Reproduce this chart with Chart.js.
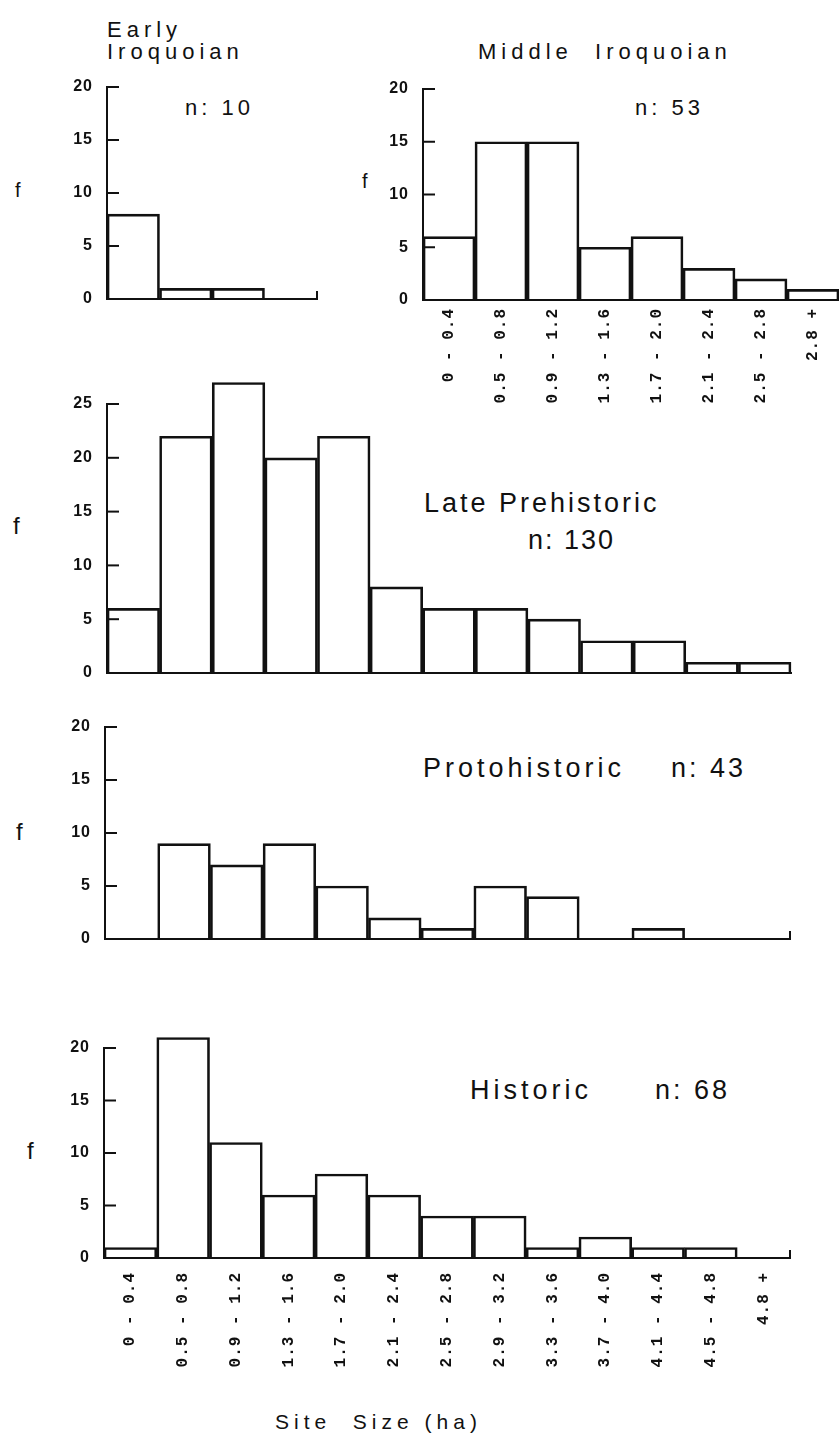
<!DOCTYPE html>
<html>
<head>
<meta charset="utf-8">
<script src="https://cdn.jsdelivr.net/npm/chart.js@4.4.1/dist/chart.umd.min.js"></script>
<style>
    body { margin: 0; background: #fff; width: 839px; height: 1434px; position: relative; overflow: hidden;
           font-family: 'Liberation Sans', Arial, sans-serif; color: #111; }
    canvas { position: absolute; }
    .txt { position: absolute; white-space: pre; line-height: 1; }
    .top { font-size: 22px; letter-spacing: 5px; }
    .low { font-size: 27px; letter-spacing: 4px; }
    .f { position: absolute; line-height: 1; }
</style>
</head>
<body>

<div class="txt top" style="left:107px;top:19px">Early</div>
<div class="txt top" style="left:107px;top:41px">Iroquoian</div>
<div class="txt top" style="left:185px;top:97px;letter-spacing:4px">n: 10</div>
<div class="txt top" style="left:478px;top:41px">Middle  Iroquoian</div>
<div class="txt top" style="left:635px;top:97px;letter-spacing:4px">n: 53</div>
<div class="txt low" style="left:424px;top:490px;letter-spacing:3px">Late Prehistoric</div>
<div class="txt low" style="left:528px;top:527px;letter-spacing:2px">n: 130</div>
<div class="txt low" style="left:423px;top:755px">Protohistoric</div>
<div class="txt low" style="left:671px;top:755px;letter-spacing:3px">n: 43</div>
<div class="txt low" style="left:470px;top:1077px">Historic</div>
<div class="txt low" style="left:655px;top:1077px;letter-spacing:3px">n: 68</div>
<div class="txt" style="left:275px;top:1411px;font-size:21px;letter-spacing:5px">Site  Size (ha)</div>

<div class="f" style="left:15px;top:180px;font-size:20px">f</div>
<div class="f" style="left:362px;top:171px;font-size:20px">f</div>
<div class="f" style="left:13px;top:514px;font-size:24px">f</div>
<div class="f" style="left:16px;top:820px;font-size:24px">f</div>
<div class="f" style="left:27px;top:1139px;font-size:24px">f</div>

<canvas id="early"></canvas>
<canvas id="middle"></canvas>
<canvas id="late"></canvas>
<canvas id="proto"></canvas>
<canvas id="historic"></canvas>

<script>
// Site size classes (ha)
const shortBins = ['0 - 0.4', '0.5 - 0.8', '0.9 - 1.2', '1.3 - 1.6', '1.7 - 2.0', '2.1 - 2.4', '2.5 - 2.8', '2.8 +'];
const fullBins = ['0 - 0.4', '0.5 - 0.8', '0.9 - 1.2', '1.3 - 1.6', '1.7 - 2.0', '2.1 - 2.4', '2.5 - 2.8',
                  '2.9 - 3.2', '3.3 - 3.6', '3.7 - 4.0', '4.1 - 4.4', '4.5 - 4.8', '4.8 +'];
const earlyBins = shortBins.slice(0, 4);

// Frequencies
const earlyCounts = [8, 1, 1, 0];
const middleCounts = [6, 15, 15, 5, 6, 3, 2, 1];
const lateCounts = [6, 22, 27, 20, 22, 8, 6, 6, 5, 3, 3, 1, 1];
const protoCounts = [0, 9, 7, 9, 5, 2, 1, 5, 4, 0, 1, 0, 0];
const historicCounts = [1, 21, 11, 6, 8, 6, 4, 4, 1, 2, 1, 1, 0];

// Axis tops and tick step
const yStep = 5;
const earlyMax = 20, middleMax = 20, lateMax = 25, protoMax = 20, historicMax = 20;

const INK = '#111';

// ticks pointing into the plot, plus the little hook at the end of the x axis
const inwardTicks = {
    id: 'inwardTicks',
    beforeDraw(chart) {
        chart.ctx.letterSpacing = '1px';
    },
    afterDraw(chart, args, opts) {
        const { ctx, chartArea: a, scales: { y } } = chart;
        ctx.save();
        ctx.strokeStyle = INK;
        ctx.lineWidth = 2;
        y.ticks.forEach(t => {
            if (t.value === 0) return;
            const py = y.getPixelForValue(t.value);
            ctx.beginPath();
            ctx.moveTo(a.left, py);
            ctx.lineTo(a.left + 12, py);
            ctx.stroke();
        });
        if (opts.hook) {
            ctx.beginPath();
            ctx.moveTo(a.right, a.bottom + 1);
            ctx.lineTo(a.right, a.bottom - 8);
            ctx.stroke();
        }
        ctx.restore();
    }
};

function makePanel(id, box, plot, labels, counts, yMax, showLabels, hook) {
    const cv = document.getElementById(id);
    cv.width = box.w;
    cv.height = box.h;
    cv.style.left = box.x + 'px';
    cv.style.top = box.y + 'px';
    cv.style.width = box.w + 'px';
    cv.style.height = box.h + 'px';

    return new Chart(cv, {
        type: 'bar',
        data: {
            labels: labels,
            datasets: [{
                data: counts,
                backgroundColor: 'rgba(255,255,255,0)',
                borderColor: INK,
                borderWidth: 2,
                borderSkipped: 'bottom',
                barPercentage: 1,
                categoryPercentage: 1,
                clip: false
            }]
        },
        options: {
            responsive: false,
            animation: false,
            devicePixelRatio: 1,
            layout: {
                padding: { top: plot.top - box.y, right: box.x + box.w - plot.right, bottom: 0, left: 0 }
            },
            plugins: {
                legend: { display: false },
                tooltip: { enabled: false },
                inwardTicks: { hook: hook }
            },
            scales: {
                x: {
                    grid: { display: false, drawTicks: true, tickLength: showLabels ? showLabels : 0 },
                    border: { display: true, color: INK, width: 2 },
                    ticks: {
                        display: !!showLabels,
                        autoSkip: false,
                        minRotation: 90,
                        maxRotation: 90,
                        padding: 0,
                        color: INK,
                        font: { family: "'Liberation Mono', monospace", weight: 'bold', size: 16 }
                    },
                    afterFit: s => { s.height = box.y + box.h - plot.bottom; }
                },
                y: {
                    min: 0,
                    max: yMax,
                    grid: { display: false, drawTicks: true, tickLength: 14 },
                    border: { display: true, color: INK, width: 2 },
                    ticks: {
                        stepSize: yStep,
                        padding: 0,
                        color: INK,
                        font: { family: "'Liberation Sans', Arial, sans-serif", weight: 'bold', size: 16 }
                    },
                    afterFit: s => { s.width = plot.left - box.x; }
                }
            }
        },
        plugins: [inwardTicks]
    });
}

makePanel('early', { x: 0, y: 60, w: 330, h: 250 }, { left: 107, right: 317, top: 87, bottom: 299 },
    earlyBins, earlyCounts, earlyMax, 0, true);
makePanel('middle', { x: 340, y: 60, w: 499, h: 360 }, { left: 423, right: 839, top: 89, bottom: 300 },
    shortBins, middleCounts, middleMax, 8, false);
makePanel('late', { x: 0, y: 360, w: 820, h: 325 }, { left: 107, right: 791, top: 404, bottom: 673 },
    fullBins, lateCounts, lateMax, 0, false);
makePanel('proto', { x: 0, y: 700, w: 810, h: 250 }, { left: 105, right: 790, top: 727, bottom: 939 },
    fullBins, protoCounts, protoMax, 0, true);
makePanel('historic', { x: 0, y: 1010, w: 810, h: 380 }, { left: 104, right: 790, top: 1048, bottom: 1258 },
    fullBins, historicCounts, historicMax, 14, true);
</script>
</body>
</html>
